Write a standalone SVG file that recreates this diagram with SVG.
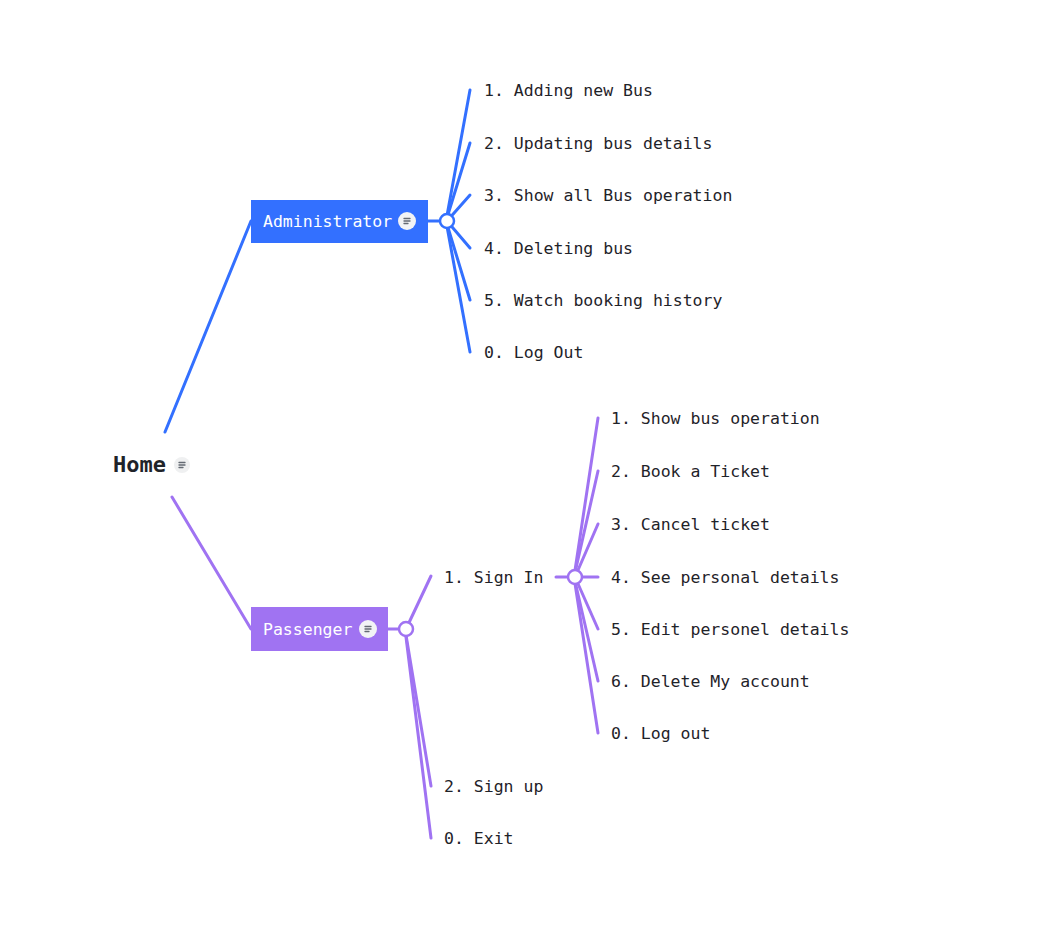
<svg xmlns="http://www.w3.org/2000/svg" width="1049" height="930" viewBox="0 0 1049 930">
<style>
.bg{fill:#ffffff}
.item{font-family:"DejaVu Sans Mono","Liberation Mono",monospace;font-size:16.5px;fill:#1f2329}
.lbl{font-family:"DejaVu Sans Mono","Liberation Mono",monospace;font-size:16.5px;fill:#ffffff}
.root{font-family:"DejaVu Sans Mono","Liberation Mono",monospace;font-size:22px;font-weight:bold;fill:#1f2329}
.blue{stroke:#3370ff;stroke-width:3;fill:none;stroke-linecap:round}
.purple{stroke:#a073f2;stroke-width:3;fill:none;stroke-linecap:round}
.cb{fill:#ffffff;stroke:#3370ff;stroke-width:2.5}
.cp{fill:#ffffff;stroke:#a073f2;stroke-width:2.5}
.ic{stroke:#646a73;stroke-width:1.3;stroke-linecap:round}
</style>
<defs>
<g id="note">
<line class="ic" x1="-3" y1="-2.5" x2="3" y2="-2.5"/>
<line class="ic" x1="-3" y1="0" x2="3" y2="0"/>
<line class="ic" x1="-3" y1="2.5" x2="1" y2="2.5"/>
</g>
</defs>
<rect class="bg" x="0" y="0" width="1049" height="930"/>
<g id="connectors">
<line class="blue" x1="165" y1="432" x2="251" y2="221"/>
<line class="blue" x1="428" y1="221" x2="447" y2="221"/>
<line class="blue" x1="446" y1="221" x2="470" y2="90"/>
<line class="blue" x1="446" y1="221" x2="470" y2="143"/>
<line class="blue" x1="447" y1="221" x2="470" y2="195"/>
<line class="blue" x1="447" y1="221" x2="470" y2="248"/>
<line class="blue" x1="446" y1="221" x2="470" y2="300"/>
<line class="blue" x1="446" y1="221" x2="470" y2="352"/>
<line class="purple" x1="172" y1="497" x2="251" y2="629"/>
<line class="purple" x1="388" y1="629" x2="406" y2="629"/>
<line class="purple" x1="406" y1="629" x2="431" y2="576"/>
<line class="purple" x1="405" y1="629" x2="431" y2="786"/>
<line class="purple" x1="405" y1="629" x2="431" y2="838"/>
<line class="purple" x1="556" y1="577" x2="598" y2="577"/>
<line class="purple" x1="574" y1="577" x2="598" y2="418"/>
<line class="purple" x1="574" y1="577" x2="598" y2="471"/>
<line class="purple" x1="575" y1="577" x2="598" y2="524"/>
<line class="purple" x1="575" y1="577" x2="598" y2="629"/>
<line class="purple" x1="574" y1="577" x2="598" y2="681"/>
<line class="purple" x1="574" y1="577" x2="598" y2="733"/>
<circle class="cb" cx="447" cy="221" r="7"/>
<circle class="cp" cx="406" cy="629" r="7"/>
<circle class="cp" cx="575" cy="577" r="7"/>
</g>
<g id="home">
<text class="root" x="113" y="472">Home</text>
<circle cx="182" cy="465" r="8" fill="#eff0f1"/>
<use href="#note" x="182" y="465"/>
</g>
<g id="administrator">
<rect x="251" y="200" width="177" height="43" fill="#3370ff"/>
<text class="lbl" x="263" y="227">Administrator</text>
<circle cx="407" cy="221" r="9" fill="#f2f3f5"/>
<use href="#note" x="407" y="221"/>
</g>
<g id="passenger">
<rect x="251" y="607" width="137" height="44" fill="#a073f2"/>
<text class="lbl" x="263" y="635">Passenger</text>
<circle cx="368" cy="629" r="9" fill="#f2f3f5"/>
<use href="#note" x="368" y="629"/>
</g>
<g id="admin-items">
<text class="item" x="484" y="96">1. Adding new Bus</text>
<text class="item" x="484" y="149">2. Updating bus details</text>
<text class="item" x="484" y="201">3. Show all Bus operation</text>
<text class="item" x="484" y="254">4. Deleting bus</text>
<text class="item" x="484" y="306">5. Watch booking history</text>
<text class="item" x="484" y="358">0. Log Out</text>
</g>
<g id="passenger-items">
<text class="item" x="444" y="583">1. Sign In</text>
<text class="item" x="444" y="792">2. Sign up</text>
<text class="item" x="444" y="844">0. Exit</text>
</g>
<g id="signin-items">
<text class="item" x="611" y="424">1. Show bus operation</text>
<text class="item" x="611" y="477">2. Book a Ticket</text>
<text class="item" x="611" y="530">3. Cancel ticket</text>
<text class="item" x="611" y="583">4. See personal details</text>
<text class="item" x="611" y="635">5. Edit personel details</text>
<text class="item" x="611" y="687">6. Delete My account</text>
<text class="item" x="611" y="739">0. Log out</text>
</g>
</svg>
